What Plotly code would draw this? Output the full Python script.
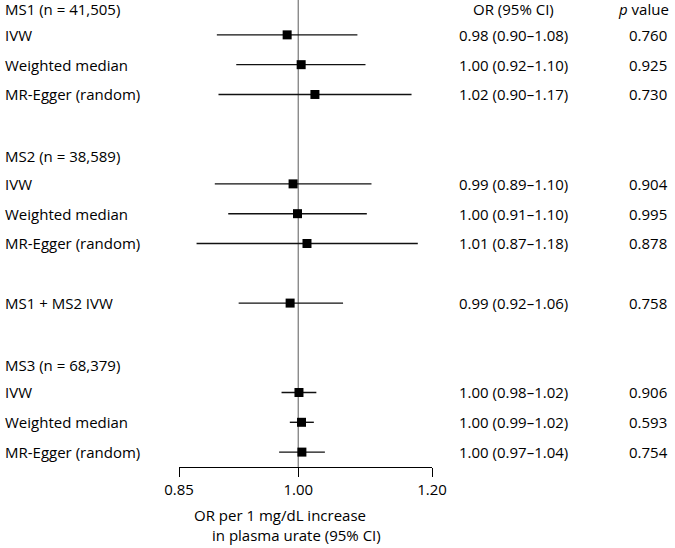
import math
import plotly.graph_objects as go

# Row layout (row index from top)
row_labels = ["MS1 (n = 41,505)", "IVW", "Weighted median", "MR-Egger (random)",
              "MS2 (n = 38,589)", "IVW", "Weighted median", "MR-Egger (random)",
              "MS1 + MS2 IVW",
              "MS3 (n = 68,379)", "IVW", "Weighted median", "MR-Egger (random)"]
row_pos = [0, 1, 2, 3, 5, 6, 7, 8, 10, 12, 13, 14, 15]

# Estimates (rows with data)
est_rows = [1, 2, 3, 6, 7, 8, 10, 13, 14, 15]
or_est = [0.985, 1.004, 1.023, 0.993, 0.999, 1.012, 0.989, 1.001, 1.0045, 1.005]
ci_lo = [0.895, 0.919, 0.897, 0.8925, 0.909, 0.8706, 0.922, 0.9775, 0.9886, 0.9743]
ci_hi = [1.084, 1.096, 1.167, 1.105, 1.098, 1.177, 1.063, 1.025, 1.0215, 1.037]
or_text = ["0.98 (0.90–1.08)", "1.00 (0.92–1.10)", "1.02 (0.90–1.17)",
           "0.99 (0.89–1.10)", "1.00 (0.91–1.10)", "1.01 (0.87–1.18)",
           "0.99 (0.92–1.06)",
           "1.00 (0.98–1.02)", "1.00 (0.99–1.02)", "1.00 (0.97–1.04)"]
p_text = ["0.760", "0.925", "0.730", "0.904", "0.995", "0.878", "0.758",
          "0.906", "0.593", "0.754"]

tick_vals = [0.85, 1.00, 1.20]
tick_text = ["0.85", "1.00", "1.20"]

FONT = "Open Sans"
FS = 15

fig = go.Figure()

# CI lines
xs, ys = [], []
for lo, hi, r in zip(ci_lo, ci_hi, est_rows):
    xs += [lo, hi, None]
    ys += [r, r, None]
fig.add_trace(go.Scatter(x=xs, y=ys, mode="lines",
                         line=dict(color="#111111", width=1.4),
                         hoverinfo="skip", showlegend=False))
# point estimates
fig.add_trace(go.Scatter(x=or_est, y=est_rows, mode="markers",
                         marker=dict(symbol="square", size=9, color="black"),
                         showlegend=False))

W, H = 675, 548
L, R, T, B = 179, 243, 0, 81
pw = W - L - R

def px2paper(px):
    return (px - L) / pw

def txt(x, y, s, anchor="left", yshift=0, yref="y"):
    return dict(x=px2paper(x), y=y, xref="paper", yref=yref, text=s,
                xanchor=anchor, yanchor="middle", showarrow=False, yshift=yshift,
                font=dict(family=FONT, size=FS, color="black"))

ann = []
for lab, r in zip(row_labels, row_pos):
    hdr = lab.startswith("MS") and "(n" in lab
    shift = 0
    if hdr:
        shift = -4 if r == 0 else -2
    ann.append(txt(3, r, lab, "left", shift))
for t, p, r in zip(or_text, p_text, est_rows):
    ann.append(txt(513, r, t, "center"))
    ann.append(txt(648, r, p, "center"))
ann.append(txt(513, 0, "OR (95% CI)", "center", -4))
ann.append(txt(643, 0, "<i>p</i> value", "center", -4))
# axis title (two lines)
ann.append(txt(192, 0, "OR per 1 mg/dL increase", "left", -(515 - 467), "paper"))
ann.append(txt(210, 0, "in plasma urate (95% CI)", "left", -(535 - 467), "paper"))

fig.update_layout(
    width=W, height=H, autosize=False,
    margin=dict(l=L, r=R, t=T, b=B, pad=0),
    plot_bgcolor="white", paper_bgcolor="white",
    annotations=ann,
    shapes=[dict(type="line", xref="x", yref="paper", x0=1.0, x1=1.0, y0=0, y1=1,
                 line=dict(color="#777777", width=1.2), layer="below")],
    font=dict(family=FONT, size=FS, color="black"),
)
fig.update_xaxes(type="log", range=[math.log10(0.85), math.log10(1.2)],
                 tickvals=tick_vals, ticktext=tick_text, ticks="outside",
                 ticklen=9, tickwidth=1.4, tickcolor="black",
                 showline=True, linecolor="black", linewidth=1.4,
                 showgrid=False, zeroline=False,
                 tickfont=dict(family=FONT, size=FS, color="black"))
fig.update_yaxes(range=[15.5, -0.17], visible=False, showgrid=False, zeroline=False)

fig.write_html("out.html", config={"displayModeBar": False},
               post_script="document.body.style.margin='0';document.body.style.overflow='hidden';")
